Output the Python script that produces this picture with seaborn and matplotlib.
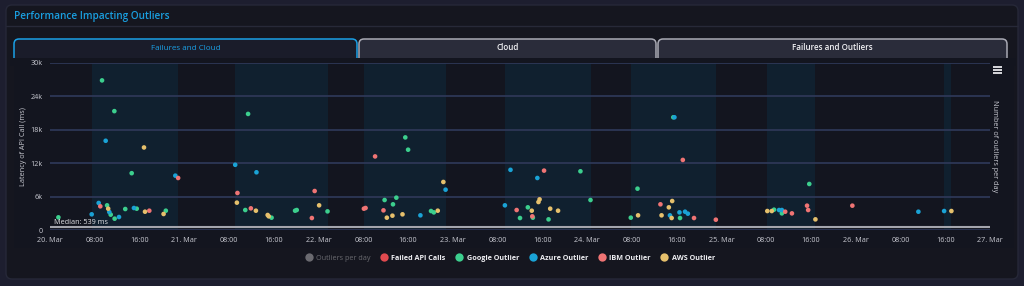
import pandas as pd
import matplotlib
matplotlib.use("Agg")
import matplotlib.pyplot as plt
import matplotlib.dates as mdates
import seaborn as sns
from matplotlib.patches import FancyBboxPatch, Rectangle
from matplotlib.lines import Line2D

# --- data (hours after 20 Mar 00:00, latency in ms) ---
google_hours = [1.5, 9.3, 11.5, 14.6, 10.2, 10.85, 11.55, 13.45, 15.5, 20.7, 35.4, 34.9, 39.6, 43.8,
                44.1, 49.6, 63.5, 64.0, 59.8, 61.9, 61.3, 68.1, 68.6, 94.8, 96.6, 84.0, 85.4, 86.3,
                89.1, 111.4, 105.0, 103.8, 112.6, 135.7, 129.4, 130.8]
google_ms = [2300, 26800, 21300, 10200, 4450, 2780, 2060, 3790, 3850, 3490, 20800, 3610, 2240, 3490,
             3610, 3370, 16600, 14400, 5400, 5820, 4630, 3430, 3190, 10540, 5400, 2180, 4090, 2240,
             1940, 20200, 7430, 2240, 2180, 8270, 3670, 3010]

azure_hours = [9.95, 22.4, 8.7, 7.45, 10.6, 12.33, 15.0, 33.1, 36.9, 70.7, 66.2, 81.3, 82.3, 87.1,
               111.6, 110.8, 112.5, 113.5, 114.0, 130.3, 130.8, 155.2, 159.8]
azure_ms = [16000, 9760, 4870, 2840, 3250, 2360, 3970, 11700, 10360, 7250, 2660, 4450, 10800, 9340,
            20200, 2660, 3190, 3310, 2960, 3610, 3610, 3310, 3430]

ibm_hours = [22.9, 8.99, 17.75, 33.5, 35.9, 47.3, 46.8, 58.1, 56.1, 56.4, 59.6, 88.3, 83.4, 86.2,
             113.1, 109.1, 115.1, 119.0, 131.4, 132.6, 135.3, 135.5, 143.4]
ibm_ms = [9340, 4270, 3490, 6660, 3910, 7010, 2180, 13200, 3850, 3970, 3550, 10660, 3610, 2480,
          12570, 4630, 2180, 1880, 3310, 3010, 4390, 3610, 4390]

aws_hours = [16.8, 10.4, 16.98, 20.3, 33.4, 36.8, 38.9, 39.1, 48.1, 70.3, 60.2, 61.2, 63.0, 69.3,
             86.1, 87.3, 87.5, 89.4, 90.8, 105.1, 110.6, 111.2, 109.3, 111.1, 128.2, 129.0, 136.8, 161.1]
aws_ms = [14800, 3850, 3310, 2900, 4930, 3490, 2720, 2480, 4450, 8630, 2240, 2600, 2840, 3490,
          3490, 5040, 5520, 3850, 3490, 2660, 4090, 5220, 2660, 2180, 3430, 3430, 1940, 3430]

band_start = [7.45, 33.1, 56.1, 81.3, 103.8, 128.2, 159.8]
band_end = [22.9, 49.6, 70.7, 96.6, 119.0, 136.8, 161.1]

median_ms = 539
y_ticks = [0, 6000, 12000, 18000, 24000, 30000]
y_tick_labels = ["0", "6k", "12k", "18k", "24k", "30k"]

legend_names = ["Outliers per day", "Failed API Calls", "Google Outlier", "Azure Outlier", "IBM Outlier", "AWS Outlier"]
legend_colors = ["#6a6a70", "#e04a4f", "#3ccf8e", "#1aa3d6", "#f07474", "#e6c06c"]
tab_names = ["Failures and Cloud", "Cloud", "Failures and Outliers"]

START = pd.Timestamp("2024-03-20")

frames = []
for name, hrs, vals in [("Google Outlier", google_hours, google_ms), ("Azure Outlier", azure_hours, azure_ms),
                        ("IBM Outlier", ibm_hours, ibm_ms), ("AWS Outlier", aws_hours, aws_ms)]:
    frames.append(pd.DataFrame({"time": START + pd.to_timedelta(hrs, unit="h"), "latency": vals, "series": name}))
df = pd.concat(frames, ignore_index=True)
palette = dict(zip(legend_names, legend_colors))

# --- style ---
sns.set_style("dark")
plt.rcParams["font.family"] = ["Open Sans", "DejaVu Sans"]
TXT = "#c9cad2"

fig = plt.figure(figsize=(10.24, 2.86), dpi=100, facecolor="#1d1e2f")

# background / frame in pixel coordinates
bg = fig.add_axes([0, 0, 1, 1], zorder=-5)
bg.set_xlim(0, 1024)
bg.set_ylim(286, 0)
bg.axis("off")
bg.add_patch(FancyBboxPatch((6, 5), 1012, 274, boxstyle="round,pad=0,rounding_size=6",
                            facecolor="#15161f", edgecolor="#262838", lw=1))
bg.plot([6, 1018], [26, 26], color="#272938", lw=1)
bg.text(14, 16, "Performance Impacting Outliers", color="#1a9fe0", fontsize=7.2,
        fontweight="semibold", va="center", ha="left")
bg.add_patch(Rectangle((14, 58), 1000, 190, facecolor="#13151f", edgecolor="none"))

tab_x = [(14, 357), (359, 656), (658, 1007)]
for i, ((x0, x1), label) in enumerate(zip(tab_x, tab_names)):
    active = i == 0
    bg.add_patch(FancyBboxPatch((x0, 39), x1 - x0, 24, boxstyle="round,pad=0,rounding_size=5",
                                facecolor="#1a1c2a" if active else "#2a2c3a",
                                edgecolor="#1aa0e6" if active else "#a9aab4", lw=1.1, zorder=1))
    bg.text((x0 + x1) / 2, 48, label, color="#1aa0e6" if active else "#f2f2f5", fontsize=5.8,
            fontweight="normal" if active else "semibold", ha="center", va="center", zorder=3)
bg.add_patch(Rectangle((10, 58), 1006, 8, facecolor="#13151f", edgecolor="none", zorder=2))

# hamburger
for yy in [66.5, 69.5, 72.5]:
    bg.plot([993, 1002], [yy, yy], color="#d8d8dc", lw=1.4, solid_capstyle="butt")

# --- main chart ---
ax = fig.add_axes([50 / 1024, 1 - 230.2 / 286, 940 / 1024, (230.2 - 62.5) / 286])
ax.set_facecolor("#13151f")
for s, e in zip(band_start, band_end):
    ax.axvspan(START + pd.Timedelta(hours=s), START + pd.Timedelta(hours=e), color="#10202f", lw=0, zorder=0)

for t in y_ticks:
    ax.axhline(t, color="#2d3756", lw=1.3, zorder=1)
ax.axhline(median_ms, color="#a4a5ad", lw=1.5, zorder=2)

sns.scatterplot(data=df, x="time", y="latency", hue="series", palette=palette, s=11,
                edgecolor="none", legend=False, ax=ax, zorder=3)

ax.set_xlim(START, START + pd.Timedelta(days=7))
ax.set_ylim(0, 30000)
ax.set_yticks(y_ticks)
ax.set_yticklabels(y_tick_labels)
ax.grid(False)
for sp in ax.spines.values():
    sp.set_visible(False)

ax.xaxis.set_major_locator(mdates.HourLocator(byhour=[0, 8, 16]))


def fmt_date(x, pos=None):
    d = mdates.num2date(x)
    return d.strftime("%d. %b") if d.hour == 0 else d.strftime("%H:%M")


ax.xaxis.set_major_formatter(plt.FuncFormatter(fmt_date))
ax.tick_params(axis="x", colors="#2d3756", labelcolor=TXT, labelsize=5.2, length=3, width=0.8, pad=2)
ax.tick_params(axis="y", labelcolor=TXT, labelsize=5.2, length=0, pad=5)
ax.set_xlabel("")
ax.set_ylabel("Latency of API Call (ms)", color=TXT, fontsize=5.2, labelpad=3)
ax.text(START + pd.Timedelta(hours=0.7), 1400, "Median: 539 ms", color="#e4e4e8", fontsize=5.2,
        va="center", ha="left", zorder=4)

ax2 = ax.twinx()
ax2.set_yticks([])
for sp in ax2.spines.values():
    sp.set_visible(False)
ax2.set_ylabel("Number of outliers per day", color=TXT, fontsize=5.2, rotation=270, labelpad=6)

# legend
handles = [Line2D([0], [0], marker="o", ls="", markersize=6, markerfacecolor=c, markeredgecolor="none")
           for c in legend_colors]
leg = fig.legend(handles, legend_names, loc="center", bbox_to_anchor=(510 / 1024, 1 - 258 / 286),
                 ncol=6, frameon=False, fontsize=5.2, handletextpad=0.5, columnspacing=1.4,
                 handlelength=1.0)
for i, txt in enumerate(leg.get_texts()):
    txt.set_color("#6a6a70" if i == 0 else "#eeeef2")
    txt.set_fontweight("normal" if i == 0 else "bold")

fig.savefig("out.png", dpi=100, facecolor=fig.get_facecolor())
